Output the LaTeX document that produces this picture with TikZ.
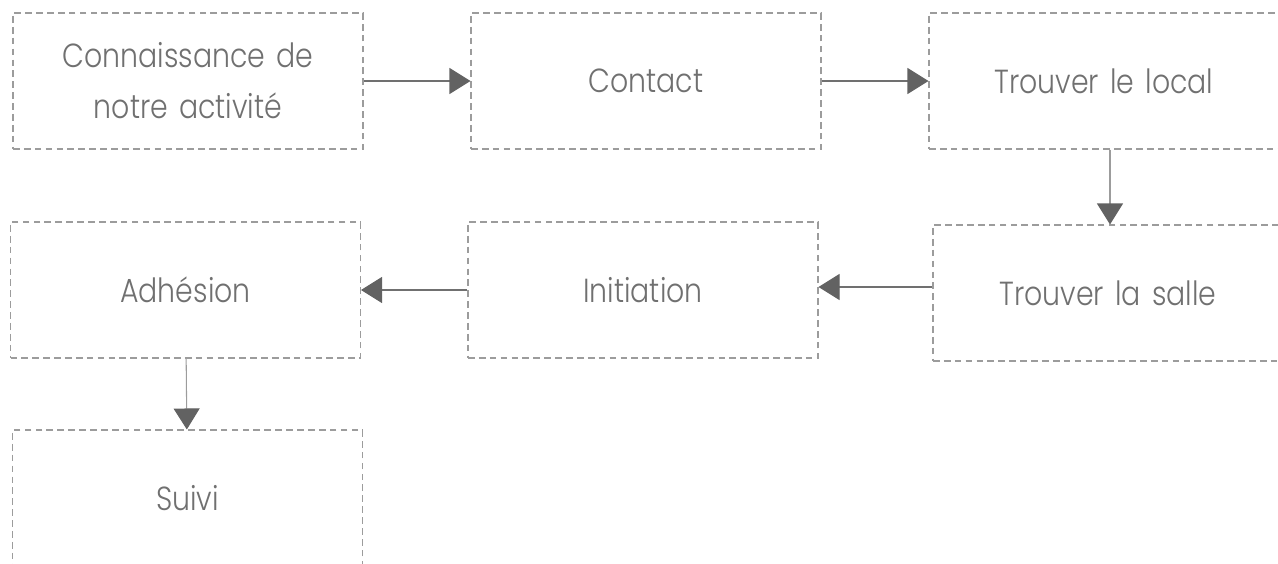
\documentclass[tikz,border=0pt]{standalone}
\usepackage{fontspec}
\setmainfont{Poppins}[UprightFont={* Light},FakeStretch=0.85]
\usetikzlibrary{arrows.meta,positioning}
\definecolor{boxgray}{HTML}{9C9C9C}
\definecolor{txtgray}{HTML}{707070}
\definecolor{tipgray}{HTML}{626262}

\begin{document}
\begin{tikzpicture}[
		etape/.style={draw=boxgray,dash pattern=on 3.8pt off 2.4pt,line width=0.6pt,minimum width=7cm,minimum height=2.72cm,text width=6.6cm,align=center,text=txtgray,font=\fontsize{19}{29}\selectfont},
		fleche/.style={draw=txtgray,line width=0.6pt,-{Triangle[length=0.42cm,width=0.52cm,color=tipgray]}},
		descente/.style={fleche,draw=boxgray}]
	\useasboundingbox (0,0) rectangle (25.56,-11.28);
	% premiere ligne
	\node[etape] (conn) at (3.76,-1.62) {Connaissance de\\ notre activité};
	\node[etape] (contact) at (12.92,-1.62) {Contact};
	\node[etape] (local) at (22.08,-1.62) {Trouver le local};
	% deuxieme ligne
	\node[etape] (salle) at (22.16,-5.86) {Trouver la salle};
	\node[etape] (init) at (12.86,-5.8) {Initiation};
	\node[etape] (adh) at (3.71,-5.8) {Adhésion};
	% troisieme ligne
	\node[etape] (suivi) at (3.75,-9.96) {Suivi};
	\draw[fleche] (conn) -- (contact);
	\draw[fleche] (contact) -- (local);
	\draw[descente] ([xshift=1.2mm]local.south) -- ([xshift=1.2mm]local.south |- salle.north);
	\draw[fleche] ([yshift=1.2mm]salle.west) -- ([yshift=1.2mm]salle.west -| init.east);
	\draw[fleche] (init) -- (adh);
	\draw[descente] (adh) -- (suivi);
\end{tikzpicture}
\end{document}
